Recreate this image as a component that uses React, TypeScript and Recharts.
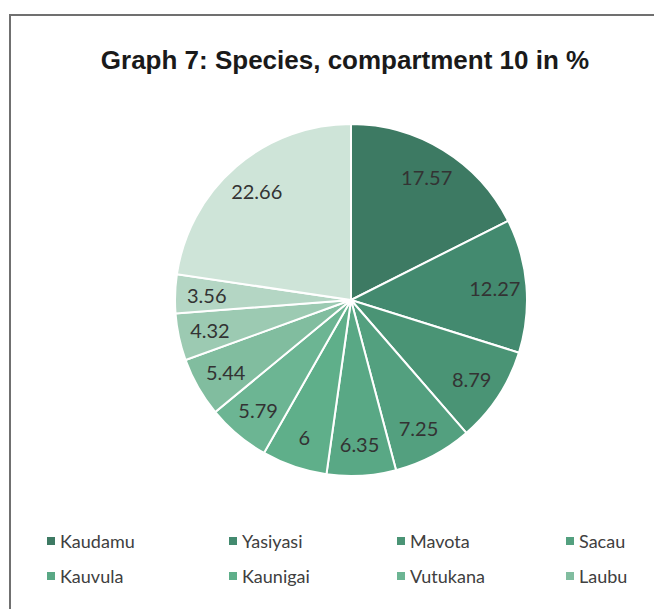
import React from "react";
import { PieChart, Pie, Cell } from "recharts";

const title = "Graph 7: Species, compartment 10 in %";
const legendNames = ["Kaudamu", "Yasiyasi", "Mavota", "Sacau", "Kauvula", "Kaunigai", "Vutukana", "Laubu"];
const values = [17.57, 12.27, 8.79, 7.25, 6.35, 6, 5.79, 5.44, 4.32, 3.56, 22.66];
const colors = [
  "#3d7a63",
  "#438a6f",
  "#4a9475",
  "#53a07f",
  "#59a885",
  "#5faf8a",
  "#6cb593",
  "#81bd9f",
  "#9ccab2",
  "#b4d6c4",
  "#cee4d8",
];

const data = values.map((v, i) => ({ name: legendNames[i] ?? `s${i + 1}`, value: v }));

const RAD = Math.PI / 180;
const renderLabel = (props: any) => {
  const { cx, cy, midAngle, outerRadius, value } = props;
  const r = outerRadius * 0.82;
  const x = cx + r * Math.cos(-midAngle * RAD);
  const y = cy + r * Math.sin(-midAngle * RAD);
  return (
    <text
      x={x}
      y={y}
      fill="#333333"
      textAnchor="middle"
      dominantBaseline="central"
      fontFamily="Lato, 'Open Sans', sans-serif"
      fontSize={20}
    >
      {String(value)}
    </text>
  );
};

const legendCols = [47, 229, 397, 566];
const legendRows = [541, 576];

export default function App() {
  return (
    <div style={{ position: "absolute", left: 0, top: 0, width: 654, height: 609, background: "#fff", overflow: "hidden" }}>
      <div
        style={{
          position: "absolute",
          left: 9,
          top: 14,
          width: 660,
          height: 620,
          borderTop: "2px solid #707070",
          borderLeft: "2px solid #707070",
          boxSizing: "border-box",
        }}
      />
      <svg style={{ position: "absolute", left: 0, top: 0 }} width={654} height={609}>
        <text
          x={345}
          y={69}
          textAnchor="middle"
          fontFamily="'Liberation Sans', Arial, sans-serif"
          fontWeight="bold"
          fontSize={26}
          fill="#1a1a1a"
        >
          {title}
        </text>
        {legendNames.map((n, i) => {
          const col = i % 4;
          const row = Math.floor(i / 4);
          const x = legendCols[col];
          const y = legendRows[row];
          return (
            <g key={n}>
              <rect x={x} y={y - 4} width={8} height={8} fill={colors[i]} />
              <text
                x={x + 13}
                y={y}
                dominantBaseline="central"
                fontFamily="Lato, 'Open Sans', sans-serif"
                fontSize={18}
                fill="#404040"
              >
                {n}
              </text>
            </g>
          );
        })}
      </svg>
      <div style={{ position: "absolute", left: 0, top: 0 }}>
        <PieChart width={654} height={609}>
          <Pie
            data={data}
            dataKey="value"
            nameKey="name"
            cx={346}
            cy={295}
            outerRadius={176}
            startAngle={90}
            endAngle={-270}
            stroke="#ffffff"
            strokeWidth={2}
            label={renderLabel}
            labelLine={false}
            isAnimationActive={false}
          >
            {data.map((d, i) => (
              <Cell key={i} fill={colors[i]} />
            ))}
          </Pie>
        </PieChart>
      </div>
    </div>
  );
}
